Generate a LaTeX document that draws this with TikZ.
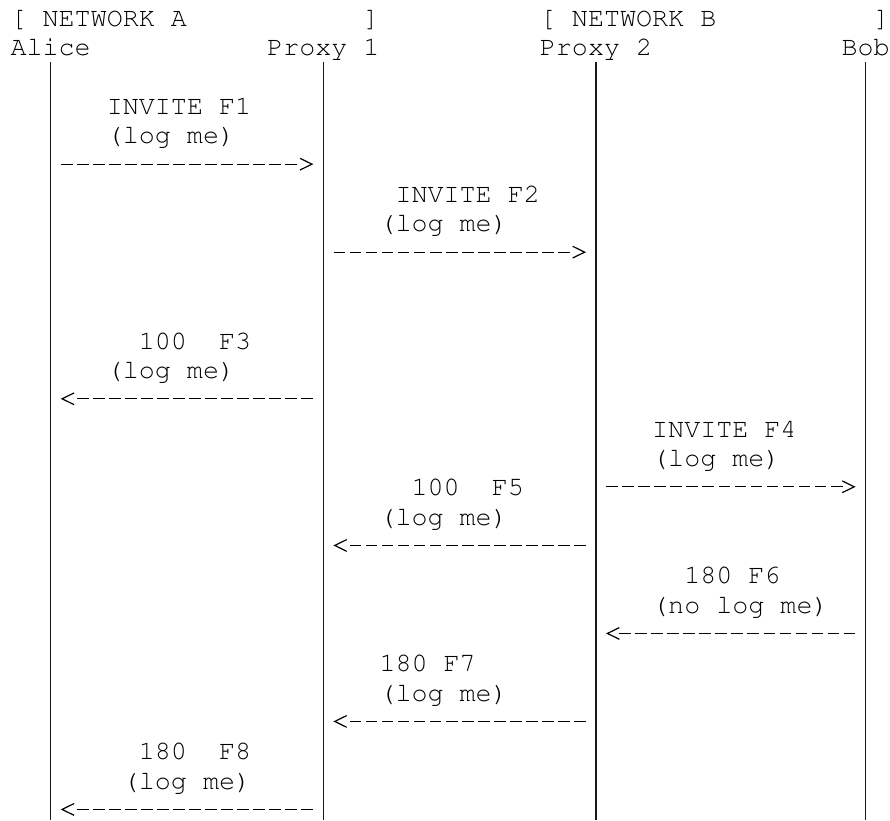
\documentclass[tikz,border=0pt]{standalone}
\usepackage[T1,TU]{fontenc}
\usetikzlibrary{arrows.meta}
% grid of the monospaced layout: column x and baseline y (in px, y downwards)
\newcommand\cx[1]{{10.58+#1*16.04}}
\newcommand\bl[1]{{26.5+(#1-1)*29.33}}
\newcommand\dy[1]{{17.5+(#1-1)*29.33}}
\newcommand\cellgap[1]{\hspace*{#1\dimexpr16.04pt\relax}}
\tikzset{
  txt/.style={anchor=base west, inner sep=0pt, outer sep=0pt, text=black,
    font=\fontencoding{T1}\fontfamily{pcr}\fontsize{26.73}{29.33}\selectfont},
  life/.style={line width=1.35pt, draw=black!90, shorten <=5.9pt},
  msg/.style={line width=1.2pt, draw=black, shorten <=10.2pt, shorten >=10pt,
    dash pattern=on 11.7pt off 4.34pt on 11.7pt off 4.34pt on 11.7pt off 4.34pt
      on 11.7pt off 4.34pt on 11.7pt off 4.34pt on 11.7pt off 4.34pt
      on 11.7pt off 4.34pt on 11.7pt off 4.34pt on 11.7pt off 4.34pt
      on 11.7pt off 4.34pt on 11.7pt off 4.34pt on 11.7pt off 4.34pt
      on 11.7pt off 4.34pt on 11.7pt off 4.34pt on 11.7pt off 80pt,
    -{Straight Barb[length=12pt,width=11.7pt]}},
}
\begin{document}
\begin{tikzpicture}[x=1pt,y=-1pt]
\useasboundingbox (0,0) rectangle (890,820);
% headers
\node[txt] (netA) at (\cx{0},\bl{1}) {[ NETWORK A\cellgap{11}]};
\node[txt] (netB) at (\cx{33},\bl{1}) {[ NETWORK B\cellgap{10}\hspace*{-3.1pt}]};
\node[txt] (alice)  at (\cx{0},\bl{2})  {Alice};
\node[txt] (proxy1) at (\cx{16},\bl{2}) {Proxy 1};
\node[txt] (proxy2) at (\cx{33},\bl{2}) {Proxy 2};
\node[txt] (bob)    at ({10.58+52*16.04-3.1},\bl{2}) {Bob};
% lifelines
\coordinate (bottom) at (0,820);
\coordinate (aliceEnd)  at (alice.base |- bottom);
\coordinate (proxy1End) at (proxy1.base |- bottom);
\coordinate (proxy2End) at (proxy2.base |- bottom);
\coordinate (bobEnd)    at (bob.base |- bottom);
\draw[life] (alice.base)  -- (aliceEnd);
\draw[life] (proxy1.base) -- (proxy1End);
\draw[life] (proxy2.base) -- (proxy2End);
\draw[life] (bob.base)    -- (bobEnd);
% arrow rows
\foreach \r in {6,9,14,17,19,22,25,28} { \coordinate (r\r) at (0,\dy{\r}); }
% F1
\node[txt] (f1a) at (\cx{6},\bl{4}) {INVITE F1};
\node[txt] (f1b) at (\cx{6},\bl{5}) {(log me)};
\draw[msg] (alice.base |- r6) -- (proxy1.base |- r6);
% F2
\node[txt] (f2a) at (\cx{24},\bl{7}) {INVITE F2};
\node[txt] (f2b) at (\cx{23},\bl{8}) {(log me)};
\draw[msg] (proxy1.base |- r9) -- (proxy2.base |- r9);
% F3
\node[txt] (f3a) at (\cx{8},\bl{12}) {100\ \ F3};
\node[txt] (f3b) at (\cx{6},\bl{13}) {(log me)};
\draw[msg] (proxy1.base |- r14) -- (alice.base |- r14);
% F4
\node[txt] (f4a) at (\cx{40},\bl{15}) {INVITE F4};
\node[txt] (f4b) at (\cx{40},\bl{16}) {(log me)};
\draw[msg] (proxy2.base |- r17) -- (bob.base |- r17);
% F5
\node[txt] (f5a) at (\cx{25},\bl{17}) {100\ \ F5};
\node[txt] (f5b) at (\cx{23},\bl{18}) {(log me)};
\draw[msg] (proxy2.base |- r19) -- (proxy1.base |- r19);
% F6
\node[txt] (f6a) at (\cx{42},\bl{20}) {180 F6};
\node[txt] (f6b) at (\cx{40},\bl{21}) {(no log me)};
\draw[msg] (bob.base |- r22) -- (proxy2.base |- r22);
% F7
\node[txt] (f7a) at (\cx{23},\bl{23}) {180 F7};
\node[txt] (f7b) at (\cx{23},\bl{24}) {(log me)};
\draw[msg] (proxy2.base |- r25) -- (proxy1.base |- r25);
% F8
\node[txt] (f8a) at (\cx{8},\bl{26}) {180\ \ F8};
\node[txt] (f8b) at (\cx{7},\bl{27}) {(log me)};
\draw[msg] (proxy1.base |- r28) -- (alice.base |- r28);
\end{tikzpicture}
\end{document}
